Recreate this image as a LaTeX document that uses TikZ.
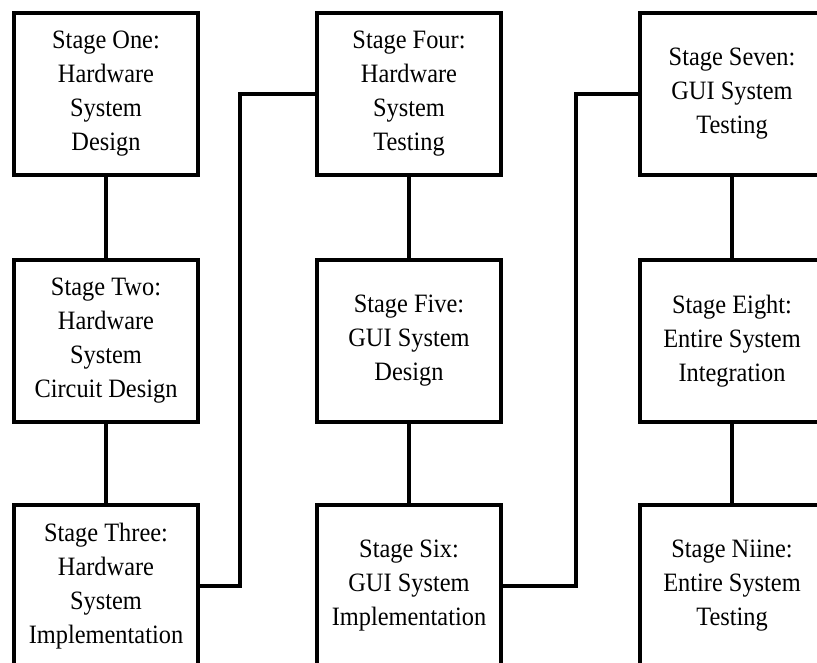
\documentclass[tikz,border=0pt]{standalone}
\usepackage{fontspec}
\setmainfont{Liberation Serif}[FakeStretch=0.92]
\usepackage{tikz}

\begin{document}
\begin{tikzpicture}[x=1pt,y=1pt,
    stage/.style={draw, line width=4pt, minimum width=184pt, minimum height=162pt,
      align=center, inner sep=0pt, font=\fontsize{26.5}{34}\selectfont},
    link/.style={line width=4pt}]
      \useasboundingbox (0,0) rectangle (817,-662);
      \fill[white] (0,0) rectangle (817,-662);
      % first column
      \node[stage] (one) at (106,-94) {Stage One:\\Hardware\\System\\Design};
      \node[stage] (two) at (106,-341) {Stage Two:\\Hardware\\System\\Circuit Design};
      \node[stage] (three) at (106,-586) {Stage Three:\\Hardware\\System\\Implementation};
      % second column
      \node[stage] (four) at (409,-94) {Stage Four:\\Hardware\\System\\Testing};
      \node[stage] (five) at (409,-341) {Stage Five:\\GUI System\\Design};
      \node[stage] (six) at (409,-586) {Stage Six:\\GUI System\\Implementation};
      % third column
      \node[stage] (seven) at (732,-94) {Stage Seven:\\GUI System\\Testing};
      \node[stage] (eight) at (732,-341) {Stage Eight:\\Entire System\\Integration};
      \node[stage] (nine) at (732,-586) {Stage Niine:\\Entire System\\Testing};
      % links
      \draw[link] (one) -- (two);
      \draw[link] (two) -- (three);
      \draw[link] (three.east) -- ++(40,0) |- (four.west);
      \draw[link] (four) -- (five);
      \draw[link] (five) -- (six);
      \draw[link] (six.east) -- ++(73,0) |- (seven.west);
      \draw[link] (seven) -- (eight);
      \draw[link] (eight) -- (nine);
\end{tikzpicture}
\end{document}
